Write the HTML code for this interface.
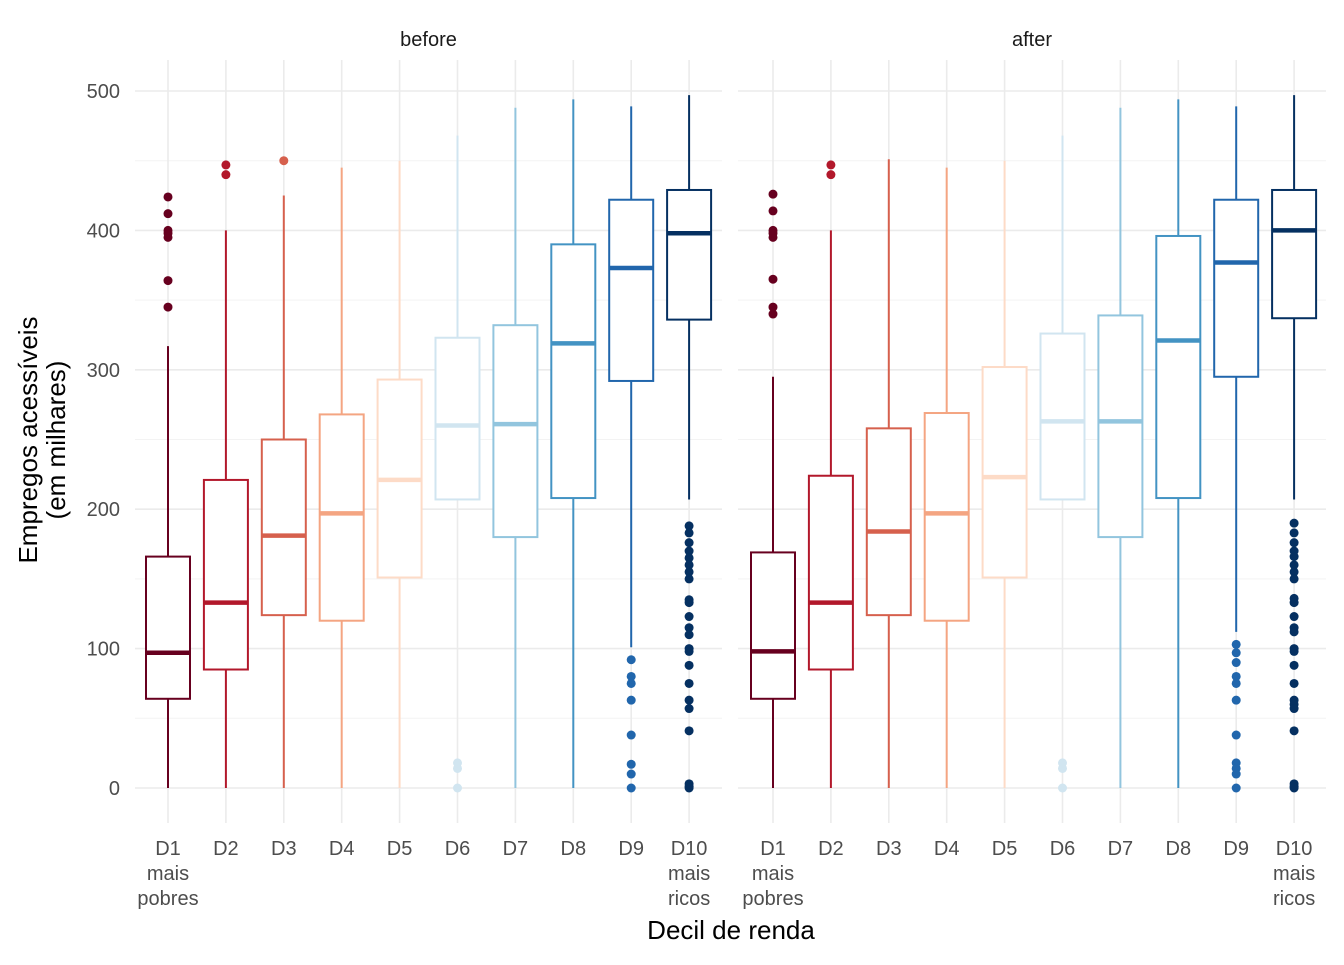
<!DOCTYPE html>
<html><head><meta charset="utf-8"><style>
body{margin:0;background:#fff}
svg text{font-family:"Liberation Sans",Arial,sans-serif}
</style></head><body>
<svg id="c" width="1344" height="960" xmlns="http://www.w3.org/2000/svg"></svg>
<script>
const categories=["D1","D2","D3","D4","D5","D6","D7","D8","D9","D10"];
const catSub=[["mais","pobres"],[],[],[],[],[],[],[],[],["mais","ricos"]];
const colors=["#67001f","#b2182b","#d6604d","#f4a582","#fddbc7","#d1e5f0","#92c5de","#4393c3","#2166ac","#053061"];
const facets=["before","after"];
const beforeLow=[0,0,0,0,0,207,0,0,101,207];
const beforeQ1=[64,85,124,120,151,207,180,208,292,336];
const beforeMed=[97,133,181,197,221,260,261,319,373,398];
const beforeQ3=[166,221,250,268,293,323,332,390,422,429];
const beforeHigh=[317,400,425,445,450,468,488,494,489,497];
const beforeOut=[[345,364,395,398,400,412,424],[440,447],[450],[],[],[0,14,18],[],[],[92,80,75,63,38,17,10,0],[188,183,176,170,165,160,155,150,135,133,123,115,110,100,98,88,75,63,57,41,3,1,0]];
const afterLow=[0,0,0,0,0,207,0,0,112,207];
const afterQ1=[64,85,124,120,151,207,180,208,295,337];
const afterMed=[98,133,184,197,223,263,263,321,377,400];
const afterQ3=[169,224,258,269,302,326,339,396,422,429];
const afterHigh=[295,400,451,445,450,468,488,494,489,497];
const afterOut=[[340,345,365,395,398,400,414,426],[440,447],[],[],[],[0,14,18],[],[],[103,97,90,80,75,63,38,18,14,10,0],[190,183,176,170,166,160,155,150,136,133,123,115,112,100,98,88,75,63,60,57,41,3,1,0]];
const yTicks=[0,100,200,300,400,500];

const svg=document.getElementById('c');
const NS="http://www.w3.org/2000/svg";
function mk(t,a,p){const e=document.createElementNS(NS,t);for(const k in a)e.setAttribute(k,a[k]);(p||svg).appendChild(e);return e;}
const y=v=>788-v*1.394;
const panels=[{x0:135,x1:722,c0:168},{x0:738,x1:1326,c0:773}];
const step=57.9;
const data=[[beforeLow,beforeQ1,beforeMed,beforeQ3,beforeHigh,beforeOut],[afterLow,afterQ1,afterMed,afterQ3,afterHigh,afterOut]];
panels.forEach((p,pi)=>{
  const g=mk('g',{});
  
  
  const x=i=>p.c0+i*step;
  for(let v=50;v<=450;v+=100){const l=mk('line',{x1:p.x0,x2:p.x1,y1:y(v),y2:y(v),stroke:'#f3f3f3','stroke-width':1},g);
    }
  yTicks.forEach(v=>{const l=mk('line',{x1:p.x0,x2:p.x1,y1:y(v),y2:y(v),stroke:'#ebebeb','stroke-width':1.6},g);
    });
  categories.forEach((c,i)=>{const l=mk('line',{x1:x(i),x2:x(i),y1:60,y2:823,stroke:'#ebebeb','stroke-width':1.6},g);
    });
  const t=mk('text',{x:(p.x0+p.x1)/2,y:46,'text-anchor':'middle','font-size':20,fill:'#1a1a1a'},g);t.textContent=facets[pi];
  
  const [lo,q1,md,q3,hi,out]=data[pi];
  categories.forEach((c,i)=>{
    const b=mk('g',{},g);
    
    
    const col=colors[i],cx=x(i),w=22;
    mk('line',{x1:cx,x2:cx,y1:y(lo[i]),y2:y(q1[i]),stroke:col,'stroke-width':2},b);
    mk('line',{x1:cx,x2:cx,y1:y(q3[i]),y2:y(hi[i]),stroke:col,'stroke-width':2},b);
    mk('rect',{x:cx-w,y:y(q3[i]),width:2*w,height:y(q1[i])-y(q3[i]),fill:'#fff',stroke:col,'stroke-width':2},b);
    mk('line',{x1:cx-w,x2:cx+w,y1:y(md[i]),y2:y(md[i]),stroke:col,'stroke-width':4.5},b);
    out[i].forEach(v=>{const o=mk('circle',{cx:cx,cy:y(v),r:4.5,fill:col},b);
      });
    const tl=mk('text',{x:cx,y:855,'text-anchor':'middle','font-size':20,fill:'#4d4d4d'},g);tl.textContent=c;
    
    catSub[i].forEach((s,k)=>{const ts=mk('text',{x:cx,y:880+k*25,'text-anchor':'middle','font-size':20,fill:'#4d4d4d'},g);ts.textContent=s;
      });
  });
});
yTicks.forEach(v=>{const t=mk('text',{x:120,y:y(v)+7,'text-anchor':'end','font-size':20,fill:'#4d4d4d'});t.textContent=v;
  });
const xt=mk('text',{x:731,y:939,'text-anchor':'middle','font-size':26,fill:'#000'});xt.textContent='Decil de renda';

const yt=mk('text',{transform:'translate(37,440) rotate(-90)','text-anchor':'middle','font-size':26,fill:'#000'});

const s1=mk('tspan',{x:0,dy:0},yt);s1.textContent='Empregos acessíveis';
const s2=mk('tspan',{x:0,dy:28},yt);s2.textContent='(em milhares)';
</script>
</body></html>
